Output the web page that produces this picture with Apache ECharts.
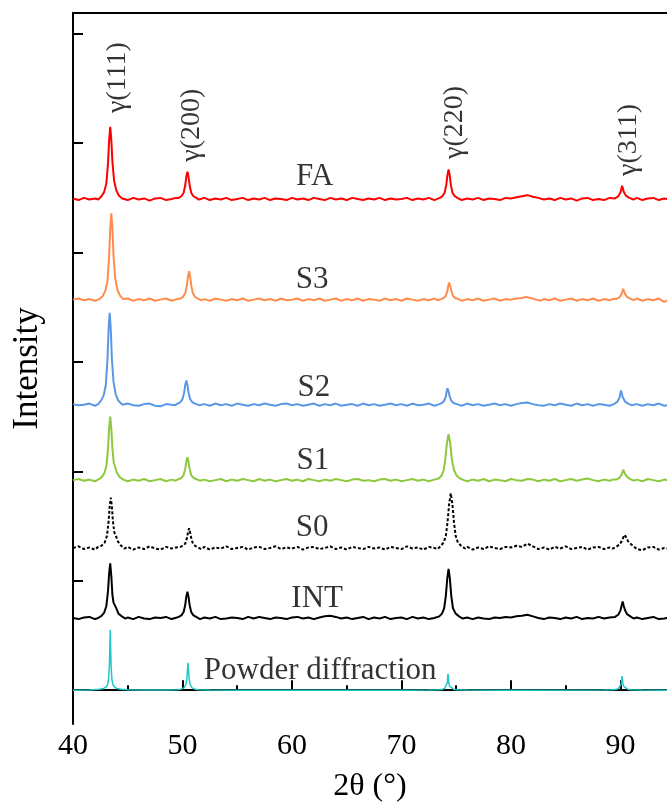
<!DOCTYPE html>
<html lang="en">
  <head>
    <meta charset="UTF-8" />
    <title>XRD patterns</title>
    <script src="https://cdn.jsdelivr.net/npm/echarts@6/dist/echarts.min.js"></script>
    <style>
      body {
        margin: 0;
        background-color: #ffffff;
      }
      #main {
        width: 667px;
        height: 808px;
      }
    </style>
  </head>
  <body>
    <div id="main"></div>
    <script>
      // 各曲线: [2θ, 相对强度]，每条曲线再加上各自的纵向偏移
      const faData = [
        [40,0.5],[40.5,-1],[41,1],[41.5,-0.5],[42,0.5],[42.3,-0.5],[42.6,2.5],[42.85,6.5],[43.05,14.5],[43.2,33],[43.3,54],[43.4,66],[43.5,54],[43.6,34],[43.75,17],[43.95,8],[44.2,3],[44.5,0.5],
        [45,-1],[45.5,1],[46,-0.5],[46.5,0.5],[47,-1.5],[47.5,0.5],[48,1],[48.5,-1],[49,0],[49.4,1],[49.65,1],[49.9,2.5],[50.1,5.5],[50.25,12.5],[50.35,20.5],[50.45,25],[50.55,20.5],[50.65,12.5],[50.8,5.5],[51.0,2.5],[51.25,1],
        [51.5,-0.5],[52,1],[52.5,-1],[53,0.5],[53.5,-0.5],[54,1],[54.5,-1],[55,0],[55.5,1],[56,-1],[56.5,0.5],[57,-0.5],[57.5,1],[58,-1],[58.5,0.5],[59,0],[59.5,-1],[60,1],[60.5,-0.5],[61,0.5],[61.5,-1],[62,1],[62.5,0],
        [63,-1],[63.5,1],[64,-0.5],[64.5,0.5],[65,-1],[65.5,1],[66,0],[66.5,-1],[67,0.5],[67.5,-0.5],[68,1],[68.5,-1],[69,0.5],[69.5,-0.5],[70,0],[70.5,1],[71,-1],[71.5,0.5],[72,-0.5],[72.5,1],[73,-1],
        [73.5,1],[73.75,2.7],[73.95,6],[74.1,13.5],[74.2,22],[74.3,27],[74.4,22],[74.5,13.5],[74.65,6],[74.85,2.7],[75.1,1],[75.5,-1],[76,0.5],[76.5,-0.5],[77,1],[77.5,-1],[78,0.5],[78.5,0],[79,-1],[79.5,1],
        [80,0.5],[80.5,1.5],[81,2.5],[81.5,3.5],[82,2],[82.5,1],[83,-0.5],[83.5,0.5],[84,-1],[84.5,1],[85,-0.5],[85.5,0.5],[86,-1.5],[86.5,0.5],[87,1],[87.5,-1],[88,0],[88.5,-1],[89,1],
        [89.5,0.5],[89.8,2.5],[90.0,6],[90.15,12],[90.3,6.5],[90.5,3],[90.8,1],[91.2,-0.5],[91.5,1],[92,-1],[92.5,0.5],[93,1],[93.5,-1],[94,0.5],[94.5,-0.5]
      ];
      const s3Data = [
        [40,0],[40.5,1],[41,-0.5],[41.5,0.5],[42,-1],[42.4,0.5],[42.7,3],[42.95,8],[43.15,17],[43.3,40],[43.4,65],[43.5,79],[43.6,65],[43.7,40],[43.85,20],[44.05,9],[44.3,3.5],[44.6,0.5],
        [45,1],[45.5,-1],[46,0.5],[46.5,-0.5],[47,1],[47.5,-1],[48,0],[48.5,1],[49,-1],[49.5,0.5],[49.8,1],[50.05,2.6],[50.25,5.7],[50.4,13],[50.5,21],[50.6,26],[50.7,21],[50.8,13],[50.95,5.7],[51.15,2.6],[51.4,1],
        [51.7,-0.5],[52,0.5],[52.5,-1],[53,1],[53.5,0],[54,-1],[54.5,0.5],[55,-0.5],[55.5,1],[56,-1],[56.5,0],[57,1],[57.5,-0.5],[58,0.5],[58.5,-1],[59,1],[59.5,-0.5],[60,0],[60.5,1],[61,-1],[61.5,0.5],
        [62,-0.5],[62.5,1],[63,-1],[63.5,0],[64,1],[64.5,-1],[65,0.5],[65.5,-0.5],[66,1],[66.5,-1],[67,0.5],[67.5,0],[68,-1],[68.5,1],[69,-0.5],[69.5,0.5],[70,-1],[70.5,1],[71,0],[71.5,-1],[72,0.5],[72.5,-0.5],[73,1],
        [73.3,-0.5],[73.6,0.5],[73.85,1.5],[74.05,3.5],[74.2,8],[74.27,12.5],[74.35,15.5],[74.45,12.5],[74.55,8],[74.7,3.5],[74.9,1.5],[75.2,0.5],[75.5,-1],[76,0.5],[76.5,-0.5],[77,1],[77.5,-1],[78,0],[78.5,1],[79,-1],[79.5,0.5],
        [80,0],[80.5,1],[81,1.5],[81.4,2.5],[81.8,1.5],[82.3,0],[82.7,-1],[83,0.5],[83.5,-0.5],[84,1],[84.5,-1],[85,0],[85.5,1],[86,-1],[86.5,0.5],[87,-0.5],[87.5,1],[88,-1],[88.5,0.5],[89,-0.5],[89.3,0.5],
        [89.6,0.5],[89.9,2],[90.1,5],[90.25,10],[90.4,5.5],[90.6,2.5],[90.9,1],[91.2,-0.5],[91.5,1],[92,-1],[92.5,0.5],[93,-0.5],[93.5,1],[94,-2],[94.5,0]
      ];
      const s2Data = [
        [40,0.5],[40.5,-0.5],[41,0],[41.5,1],[42,-1],[42.3,0.5],[42.55,3.5],[42.8,8.5],[43.0,18],[43.15,42],[43.25,69],[43.35,84],[43.45,69],[43.55,42],[43.7,21],[43.9,9.5],[44.15,3.5],[44.5,0],
        [45,1],[45.5,-0.5],[46,-1],[46.5,0.5],[47,1],[47.5,-1],[48,-1.5],[48.5,0.5],[49,0],[49.3,-0.5],[49.55,1],[49.8,2.2],[50.0,5],[50.15,11],[50.25,18],[50.35,22],[50.45,18],[50.55,11],[50.7,5],[50.9,2.2],[51.15,1],
        [51.5,-0.5],[52,0.5],[52.5,-1],[53,1],[53.5,-0.5],[54,0.5],[54.5,-1],[55,1],[55.5,0],[56,-1],[56.5,0.5],[57,-0.5],[57.5,1],[58,0],[58.5,-1],[59,0.5],[59.5,1],[60,-0.5],[60.5,0.5],[61,-1],[61.5,0],
        [62,1],[62.5,-1],[63,0.5],[63.5,-0.5],[64,1],[64.5,-1],[65,0],[65.5,0.5],[66,-1],[66.5,1],[67,-0.5],[67.5,0.5],[68,-1],[68.5,0],[69,1],[69.5,-0.5],[70,0.5],[70.5,-1],[71,1],[71.5,-0.5],[72,0],[72.5,1],[73,-1],
        [73.45,0.5],[73.7,1.5],[73.9,3.5],[74.05,7.5],[74.12,12],[74.2,15],[74.3,12],[74.4,7.5],[74.55,3.5],[74.75,1.5],[75.05,0.5],[75.5,-1],[76,1],[76.5,-0.5],[77,0.5],[77.5,-1],[78,0],[78.5,1],[79,-0.5],[79.5,0.5],
        [80,-1],[80.5,0.5],[81,1.5],[81.5,2],[82,0.5],[82.5,-0.5],[83,-1],[83.5,0.5],[84,-0.5],[84.5,1],[85,0],[85.5,-1],[86,1],[86.5,-0.5],[87,0.5],[87.5,-1],[88,0.5],[88.5,0],[89,-1],
        [89.4,0.5],[89.7,2.5],[89.9,6],[90.05,13],[90.2,7],[90.4,3],[90.7,1],[91,-0.5],[91.5,0.5],[92,-1],[92.5,0.5],[93,-0.5],[93.5,1],[94,-1],[94.5,0]
      ];
      const s1Data = [
        [40,0],[40.5,1],[41,-0.5],[41.5,0.5],[42,-1],[42.3,0.5],[42.6,2.5],[42.85,6],[43.05,13],[43.2,29],[43.3,48],[43.4,58],[43.5,47],[43.6,29],[43.72,16],[43.85,12],[44.0,7],[44.25,3],[44.6,0.5],
        [45,-1],[45.5,0.5],[46,-0.5],[46.5,1],[47,-1],[47.5,0],[48,1],[48.5,-1],[49,0.5],[49.35,-0.5],[49.65,1],[49.9,2],[50.1,4.5],[50.25,10.5],[50.35,17],[50.45,21],[50.55,17],[50.65,10.5],[50.8,4.5],[51.0,2],[51.25,1],
        [51.6,-0.5],[52,0.5],[52.5,-1],[53,0],[53.5,1],[54,-1],[54.5,0.5],[55,-0.5],[55.5,1],[56,0],[56.5,-1],[57,1],[57.5,-0.5],[58,0.5],[58.5,-1],[59,0],[59.5,1],[60,-0.5],[60.5,0.5],[61,-1],[61.5,1],
        [62,0],[62.5,-1],[63,0.5],[63.5,-0.5],[64,1],[64.5,0],[65,-1],[65.5,0.5],[66,1],[66.5,-0.5],[67,0],[67.5,-1],[68,0.5],[68.5,1],[69,-0.5],[69.5,0.5],[70,-1],[70.5,0],[71,1],[71.5,-0.5],[72,0.5],[72.5,-1],[73,0.5],
        [73.4,1.5],[73.65,4],[73.85,9],[74.0,19],[74.15,34],[74.3,42],[74.45,34],[74.6,19],[74.8,9],[75.05,4],[75.35,1.5],[75.7,0],[76,-1],[76.5,0.5],[77,-0.5],[77.5,1],[78,-1],[78.5,0.5],[79,0],[79.5,-1],
        [80,1],[80.5,0],[81,-0.5],[81.5,1],[82,0.5],[82.5,-1],[83,0.5],[83.5,-0.5],[84,1],[84.5,-1],[85,0],[85.5,1],[86,-0.5],[86.5,0.5],[87,1.5],[87.5,0],[88,-1],[88.5,0.5],[89,-0.5],[89.3,0.5],
        [89.6,0.5],[89.9,2],[90.1,5],[90.25,9.5],[90.4,6],[90.6,3],[90.9,1],[91.2,-0.5],[91.5,0.5],[92,-1],[92.5,1],[93,0],[93.5,-1],[94,0.5],[94.5,-0.5]
      ];
      const s0Data = [
        [40,0],[40.5,1.5],[41,-1],[41.5,0.5],[42,-1.5],[42.3,1],[42.6,2],[42.9,5],[43.1,11],[43.25,24],[43.35,38],[43.45,46],[43.55,38],[43.65,24],[43.78,14],[43.92,11],[44.1,6],[44.35,2.5],[44.7,-0.5],
        [45,1],[45.5,-1.5],[46,0.5],[46.5,-1],[47,1.5],[47.5,-0.5],[48,-1.5],[48.5,1],[49,-0.5],[49.4,0.5],[49.8,1],[50.05,2],[50.25,4],[50.4,9],[50.5,14],[50.6,18],[50.7,14],[50.8,9],[50.95,4],[51.15,2],[51.4,0.5],
        [51.7,-1],[52,1],[52.5,-1.5],[53,0.5],[53.5,-0.5],[54,1.5],[54.5,-1],[55,0],[55.5,1],[56,-1.5],[56.5,0.5],[57,1],[57.5,-1],[58,0],[58.5,1.5],[59,-1],[59.5,0.5],[60,-0.5],[60.5,1],[61,-1.5],[61.5,0.5],
        [62,1],[62.5,-1],[63,0],[63.5,1.5],[64,-1],[64.5,0.5],[65,-1.5],[65.5,1],[66,0],[66.5,-1],[67,1],[67.5,-0.5],[68,0.5],[68.5,-1.5],[69,1],[69.5,0],[70,-1],[70.5,1.5],[71,-0.5],[71.5,0.5],[72,-1.5],[72.5,1],[73,0],
        [73.3,-1],[73.6,2],[73.85,5],[74.05,11],[74.2,23],[74.35,40],[74.5,50],[74.65,40],[74.8,23],[74.95,11],[75.15,5],[75.45,2],[75.8,-0.5],[76,1],[76.5,-1.5],[77,0.5],[77.5,-1],[78,1.5],[78.5,0],[79,-1],[79.5,1],
        [80,0.5],[80.5,2],[81,1],[81.5,4],[82,1.5],[82.5,-1],[83,0.5],[83.5,-1.5],[84,1],[84.5,-0.5],[85,1.5],[85.5,-1],[86,0],[86.5,1],[87,-1.5],[87.5,0.5],[88,1],[88.5,-1],[89,0.5],[89.3,-0.5],
        [89.6,1],[89.9,3],[90.1,6],[90.25,9.5],[90.4,12],[90.55,9],[90.7,6],[90.9,4],[91.2,1.5],[91.5,-1],[92,-2],[92.5,0.5],[93,1],[93.5,-1.5],[94,0],[94.5,-1]
      ];
      const intData = [
        [40,0],[40.5,-1],[41,0.5],[41.5,1],[42,-1],[42.3,0],[42.6,2],[42.85,5],[43.05,11],[43.2,25],[43.3,41],[43.4,50],[43.5,38],[43.6,21],[43.7,14],[43.8,13],[43.95,9],[44.15,4],[44.45,1.5],[44.8,-0.5],
        [45,0.5],[45.5,-1],[46,1],[46.5,-0.5],[47,-1],[47.5,0.5],[48,0],[48.5,1],[49,-1],[49.35,0],[49.65,1],[49.9,2.4],[50.1,5.3],[50.25,12],[50.35,19.5],[50.45,24],[50.55,19.5],[50.65,12],[50.8,5.3],[51.0,2.4],[51.25,1],
        [51.6,-1],[52,0.5],[52.5,-0.5],[53,1],[53.5,-1],[54,-0.5],[54.5,0.5],[55,0],[55.5,-1],[56,1],[56.5,-0.5],[57,1],[57.5,0],[58,-1],[58.5,0.5],[59,0],[59.5,-1],[60,0.5],[60.5,1],[61,-0.5],[61.5,0.5],
        [62,-1],[62.5,0.5],[63,1.5],[63.5,2],[64,1],[64.5,-0.5],[65,0.5],[65.5,-1],[66,0],[66.5,1],[67,-1],[67.5,0.5],[68,-0.5],[68.5,1],[69,-1],[69.5,0],[70,0.5],[70.5,-1],[71,1],[71.5,-0.5],[72,0.5],[72.5,-1],[73,0],
        [73.45,1.5],[73.7,4],[73.9,9],[74.05,20],[74.18,36],[74.3,45],[74.42,36],[74.55,20],[74.7,9],[74.95,4],[75.25,1.5],[75.6,-0.5],[76,0.5],[76.5,-1],[77,0.5],[77.5,-0.5],[78,-1],[78.5,0.5],[79,0],[79.5,1],
        [80,0.5],[80.5,1.5],[81,2],[81.5,3],[82,1.5],[82.5,0],[83,-1],[83.5,0.5],[84,0],[84.5,-1],[85,0.5],[85.5,-0.5],[86,1],[86.5,-1],[87,0],[87.5,-0.5],[88,1],[88.5,-0.5],[89,0.5],
        [89.5,1],[89.8,3],[90.0,7],[90.1,11],[90.2,15],[90.3,11],[90.42,7],[90.6,3.5],[90.9,1.5],[91.2,-0.5],[91.5,0.5],[92,-1],[92.5,0],[93,1],[93.5,-1],[94,-0.5],[94.5,0.5]
      ];
      const powderData = [
        [40,0],[41.5,0.2],[42.4,0.8],[42.8,1.6],[43.0,2.8],[43.15,5],[43.25,10],[43.32,22],[43.4,55],[43.48,22],[43.55,10],[43.65,5],[43.8,2.8],[44.0,1.6],[44.4,0.8],[45,0.4],[46.5,0.1],
        [48.5,0.1],[49.6,0.5],[49.95,1.2],[50.15,2.4],[50.3,5],[50.4,10.5],[50.5,25],[50.6,10.5],[50.7,5],[50.85,2.4],[51.05,1.2],[51.4,0.5],[52.5,0.1],
        [56,0],[70,0],[72.5,0.1],[73.4,0.4],[73.75,0.9],[73.95,1.8],[74.1,3.5],[74.18,6.5],[74.25,15],[74.32,6.5],[74.4,3.5],[74.55,1.8],[74.75,0.9],[75.1,0.4],[76,0.1],
        [80,0],[88.5,0.1],[89.3,0.4],[89.65,0.9],[89.85,1.8],[90.0,3.5],[90.08,6],[90.15,13],[90.22,6],[90.3,3.5],[90.45,1.8],[90.65,0.9],[91.0,0.4],[92,0.1],[94.5,0]
      ];

      const sampleNames = ["FA", "S3", "S2", "S1", "S0", "INT", "Powder diffraction"];
      const sampleData = [faData, s3Data, s2Data, s1Data, s0Data, intData, powderData];
      const offsets = [449, 357, 261, 192, 130, 66, 0];
      const colors = ["#ff0000", "#ff8c4e", "#5b97e6", "#8dc83e", "#000000", "#000000", "#1fc9c9"];

      const peakNames = ["γ(111)", "γ(200)", "γ(220)", "γ(311)"];
      const xTicks = [40, 50, 60, 70, 80, 90];
      const yTicks = [0, 100, 200, 300, 400, 500, 600];

      // 文字标注的位置（数据坐标）
      const peakLabelAt = [[44.11, 560], [50.83, 516.5], [74.83, 519], [90.73, 503]];
      const sampleLabelAt = [[62.07, 469], [61.85, 375], [62.0, 276], [61.9, 210], [61.85, 148], [62.3, 83.5], [62.58, 18]];

      const serif = "'Times New Roman', 'Liberation Serif', serif";

      const lineSeries = sampleNames.map((name, i) => ({
        name: name,
        type: "line",
        data: sampleData[i].map(p => [p[0], p[1] + offsets[i]]),
        showSymbol: false,
        symbol: "none",
        silent: true,
        lineStyle: {
          color: colors[i],
          width: i === 6 ? 1.5 : 2,
          type: i === 4 ? [3, 2] : "solid",
        },
        z: 2,
      }));

      const textSeries = [
        {
          type: "scatter",
          symbolSize: 1,
          silent: true,
          itemStyle: { color: "rgba(0,0,0,0)" },
          data: peakNames.map((n, i) => [peakLabelAt[i][0], peakLabelAt[i][1], n]),
          label: {
            show: true,
            position: "inside",
            rotate: 90,
            formatter: p => p.value[2],
            fontFamily: serif,
            fontSize: 28,
            color: "#000",
          },
          z: 5,
        },
        {
          type: "scatter",
          symbolSize: 1,
          silent: true,
          itemStyle: { color: "rgba(0,0,0,0)" },
          data: sampleNames.map((n, i) => [sampleLabelAt[i][0], sampleLabelAt[i][1], n]),
          label: {
            show: true,
            position: "inside",
            formatter: p => p.value[2],
            fontFamily: serif,
            fontSize: 31,
            color: "#000",
          },
          z: 5,
        },
      ];

      const chart = echarts.init(document.getElementById("main"), null, { renderer: "canvas" });

      const option = {
        animation: false,
        backgroundColor: "#ffffff",
        grid: { left: 73, top: 13, right: 0, bottom: 79 },
        xAxis: [
          {
            type: "value",
            min: 40,
            max: 94.25,
            interval: 10,
            name: "2θ (°)",
            nameLocation: "middle",
            nameGap: 47,
            nameTextStyle: { fontFamily: serif, fontSize: 32, color: "#000" },
            axisLine: { lineStyle: { color: "#000", width: 2 } },
            axisTick: { inside: true, length: 10, lineStyle: { color: "#000", width: 2 }, customValues: xTicks },
            minorTick: { show: true, splitNumber: 2, length: 5, lineStyle: { color: "#000", width: 2 } },
            axisLabel: { fontFamily: serif, fontSize: 30, color: "#000", margin: 7, customValues: xTicks },
            splitLine: { show: false },
          },
          {
            type: "value",
            position: "top",
            min: 40,
            max: 94.25,
            axisLine: { show: true, onZero: false, lineStyle: { color: "#000", width: 2 } },
            axisTick: { show: false },
            axisLabel: { show: false },
            splitLine: { show: false },
          },
        ],
        yAxis: {
          type: "value",
          min: -30.9,
          max: 619,
          name: "Intensity",
          nameLocation: "middle",
          nameGap: 28,
          nameTextStyle: { fontFamily: serif, fontSize: 35, color: "#000" },
          axisLine: { show: true, lineStyle: { color: "#000", width: 2 } },
          axisTick: { show: true, inside: true, length: 10, lineStyle: { color: "#000", width: 2 }, customValues: yTicks },
          axisLabel: { show: false },
          splitLine: { show: false },
        },
        series: [...lineSeries, ...textSeries],
      };

      chart.setOption(option);
    </script>
  </body>
</html>
